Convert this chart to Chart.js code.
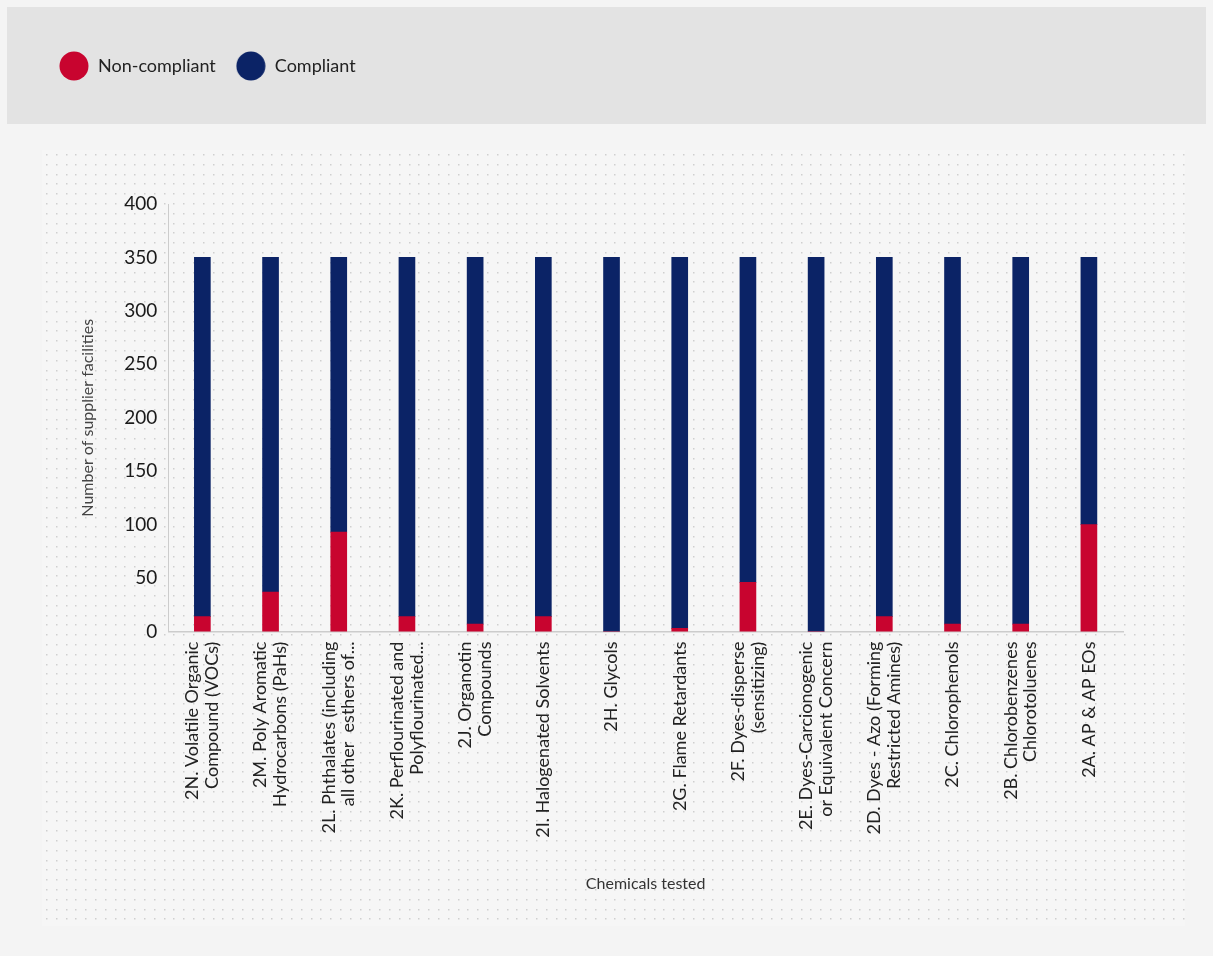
<!DOCTYPE html>
<html>
<head>
<meta charset="utf-8">
<script src="https://cdn.jsdelivr.net/npm/chart.js@4.4.0/dist/chart.umd.min.js"></script>
<style>
  html, body { margin: 0; padding: 0; background: #f4f4f4; }
  canvas { display: block; }
</style>
</head>
<body>
<canvas id="myChart" width="1213" height="956"></canvas>
<script>
var categories = [
    ['2N. Volatile Organic', 'Compound (VOCs)'],
    ['2M. Poly Aromatic', 'Hydrocarbons (PaHs)'],
    ['2L. Phthalates (including', 'all other  esthers of...'],
    ['2K. Perflourinated and', 'Polyflourinated...'],
    ['2J. Organotin', 'Compounds'],
    ['2I. Halogenated Solvents'],
    ['2H. Glycols'],
    ['2G. Flame Retardants'],
    ['2F. Dyes-disperse', '(sensitizing)'],
    ['2E. Dyes-Carcionogenic', 'or Equivalent Concern'],
    ['2D. Dyes - Azo (Forming', 'Restricted Amines)'],
    ['2C. Chlorophenols'],
    ['2B. Chlorobenzenes', 'Chlorotoluenes'],
    ['2A. AP & AP EOs']
];
var nonCompliant = [14, 37, 93, 14, 7, 14, 0, 3, 46, 0, 14, 7, 7, 100];
var compliant = [336, 313, 257, 336, 343, 336, 350, 347, 304, 350, 336, 343, 343, 250];
var yTicks = [0, 50, 100, 150, 200, 250, 300, 350, 400];

var RED = '#c8042f';
var NAVY = '#0b2366';
var LABEL_SIZE = 18;
var LABEL_LH = 1.1;

function dot(color) {
    var c = document.createElement('canvas');
    c.width = 30; c.height = 30;
    var g = c.getContext('2d');
    g.fillStyle = color;
    g.beginPath();
    g.arc(15, 15, 14.5, 0, Math.PI * 2);
    g.fill();
    return c;
}

// page background, header band and dotted panel
var backdrop = {
    id: 'backdrop',
    beforeDraw: function(chart) {
        var ctx = chart.ctx;
        ctx.save();
        ctx.fillStyle = '#f4f4f4';
        ctx.fillRect(0, 0, chart.width, chart.height);
        ctx.fillStyle = '#e3e3e3';
        ctx.fillRect(7, 7, 1199, 117);
        ctx.fillStyle = '#f6f6f6';
        ctx.fillRect(42, 150, 1143, 776);
        ctx.fillStyle = '#cfcfcf';
        for (var y = 154; y < 925; y += 9.8) {
            for (var x = 46; x < 1184; x += 9.8) {
                ctx.fillRect(Math.round(x), Math.round(y), 1.5, 1.5);
            }
        }
        ctx.restore();
    }
};

// extra room under the legend
var legendSpace = {
    id: 'legendSpace',
    beforeInit: function(chart) {
        var fit = chart.legend.fit;
        chart.legend.fit = function() {
            fit.bind(chart.legend)();
            this.height = 167;
        };
    }
};

// center multi-line x labels on their bar
var centerLines = {
    id: 'centerLines',
    beforeDraw: function(chart) {
        var scale = chart.scales.x;
        var items = scale.getLabelItems(chart.chartArea);
        var lh = LABEL_SIZE * LABEL_LH;
        items.forEach(function(item) {
            if (Array.isArray(item.label) && !item._shifted) {
                var tr = item.options ? item.options.translation : item.translation;
                tr[0] -= (item.label.length - 1) * lh / 2;
                item._shifted = true;
            }
        });
    }
};

var ctx = document.getElementById('myChart').getContext('2d');
var chart = new Chart(ctx, {
    type: 'bar',
    data: {
        labels: categories,
        datasets: [
            {
                label: 'Non-compliant',
                data: nonCompliant,
                backgroundColor: RED,
                pointStyle: dot(RED),
                barThickness: 16
            },
            {
                label: 'Compliant',
                data: compliant,
                backgroundColor: NAVY,
                pointStyle: dot(NAVY),
                barThickness: 16
            }
        ]
    },
    plugins: [backdrop, legendSpace, centerLines],
    options: {
        responsive: false,
        animation: false,
        layout: { padding: { top: 37, left: 39, right: 90, bottom: 63 } },
        plugins: {
            legend: {
                position: 'top',
                align: 'start',
                labels: {
                    usePointStyle: true,
                    pointStyleWidth: 30,
                    padding: 20,
                    color: '#222',
                    font: { family: 'Lato', size: 18 }
                }
            },
            tooltip: { enabled: false }
        },
        scales: {
            x: {
                stacked: true,
                grid: { display: false, drawTicks: false },
                border: { color: '#cccccc', width: 1.5 },
                ticks: {
                    minRotation: 90,
                    maxRotation: 90,
                    autoSkip: false,
                    padding: 10,
                    color: '#222',
                    font: { family: 'Lato', size: LABEL_SIZE, lineHeight: LABEL_LH }
                },
                title: {
                    display: true,
                    text: 'Chemicals tested',
                    color: '#333',
                    font: { family: 'Lato', size: 16 },
                    padding: { top: 26, bottom: 0 }
                }
            },
            y: {
                stacked: true,
                min: 0,
                max: 400,
                afterBuildTicks: function(axis) {
                    axis.ticks = yTicks.map(function(v) { return { value: v }; });
                },
                grid: { display: false, drawTicks: false },
                border: { color: '#cccccc', width: 1 },
                ticks: {
                    padding: 11,
                    color: '#1a1a1a',
                    font: { family: 'Lato', size: 19 }
                },
                title: {
                    display: true,
                    text: 'Number of supplier facilities',
                    color: '#444',
                    font: { family: 'Lato', size: 16 },
                    padding: { top: 39, bottom: 16 }
                }
            }
        }
    }
});
</script>
</body>
</html>
